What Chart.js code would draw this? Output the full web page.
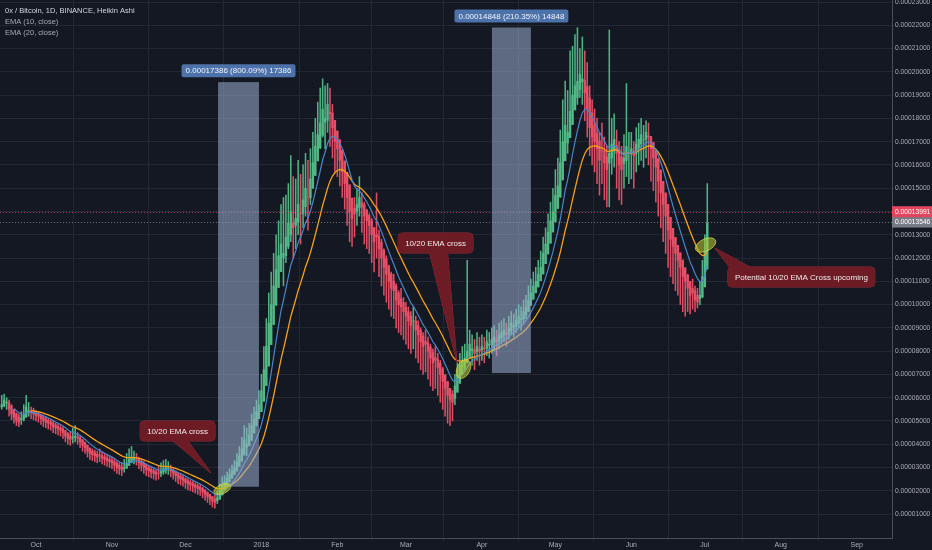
<!DOCTYPE html>
<html>
<head>
<meta charset="utf-8">
<script src="https://cdn.jsdelivr.net/npm/chart.js@4.4.0/dist/chart.umd.min.js"></script>
<style>
html, body { margin: 0; padding: 0; background: #141823; }
#wrap { width: 932px; height: 550px; }
</style>
</head>
<body>
<div id="wrap"><canvas id="chart" width="932" height="550"></canvas></div>
<script>
// daily Heikin Ashi candles, day 0 = 2017-09-17, values in satoshi (1e-8 BTC)
const closes = [
  5700, 5900, 5800, 5500, 5300, 5150, 5000, 4950, 5100, 5250, 5600, 5450, 5350, 5300, 5250,
  5200, 5100, 5000, 4950, 4900, 4850, 4750, 4700, 4650, 4600, 4500, 4350, 4250, 4200, 4300, 4350, 4250,
  4100, 3950, 3850, 3700, 3600, 3550, 3500, 3450, 3500, 3400, 3350, 3300, 3250,
  3200, 3100, 3000, 2950, 2900, 3000, 3200, 3350, 3450, 3400, 3350, 3200,
  3100, 3000, 2900, 2850, 2800, 2750, 2700, 2750, 2850, 2950, 3000, 2950, 2850, 2750,
  2650, 2550, 2500, 2450, 2350, 2300, 2250, 2200, 2150, 2100, 2050, 1950, 1850, 1750, 1650, 1550, 1500, 1700,
  2000, 2250, 2400, 2550, 2700, 2850, 3000, 3250, 3500, 3800, 4200, 4000, 4400, 4800, 5100, 5400, 5700,
  6300, 7200, 8200, 9200, 10000, 10800, 11500, 12100, 12600, 12200, 12900, 13500, 14000, 13300, 13700, 14300, 13900, 14500, 15000, 14600,
  15400, 16100, 16800, 17300, 17800, 18400, 18000, 18600, 18200, 17600, 17000,
  16700, 16200, 15700, 15200, 14600, 14000, 13700, 13900, 14300, 14600, 14200, 13800, 13600, 13400,
  13000, 12700, 12900, 12400, 12000, 11600, 11300, 11000, 10700, 10600, 10200, 10000, 9900, 9700,
  9500, 9300, 9100, 9300, 8900, 8700, 8400, 8200, 8300, 8000, 7700, 7500, 7600, 7300, 7000, 6700, 6400, 6100, 5900, 5800,
  6500, 7000, 7400, 7600, 7700, 8000, 8300, 8100, 7900, 8200, 8000, 8200, 8100, 8400, 8300, 8500,
  8600, 8400, 8700, 8800, 8900, 8700, 9000, 9200, 9100, 9300, 9500, 9400, 9700, 9900, 10200, 10500,
  10800, 11000, 11300, 11600, 12200, 12600, 13100, 13600,
  14000, 14700, 15100, 16100, 17000, 17700, 17400, 18300, 19000, 19400, 19600, 19900, 19700, 19100, 18400, 17600,
  17200, 17000, 16700, 16200, 16600, 16100, 15800, 16500, 16900, 17100, 16500, 16000, 15800, 16300, 16800, 16500,
  16700, 16400, 16900, 17100, 17300, 17100, 17400, 17200, 16700, 16300, 15900, 15300, 14800, 14300, 13800, 13200, 12800, 12500, 12200,
  11900, 11600, 11200, 11000, 10700, 10400, 10500, 10200, 10100, 10400, 11200, 12300, 13500
];
const highs = [
  6100, 6150, 6000, 5900, 5700, 5500, 5350, 5300, 5400, 5700, 6100, 5800, 5600, 5550, 5450,
  5400, 5300, 5250, 5150, 5100, 5050, 5000, 4900, 4850, 4800, 4750, 4600, 4500, 4550, 4700, 4800, 4500,
  4350, 4200, 4100, 3950, 3850, 3800, 3750, 3700, 3800, 3650, 3600, 3550, 3500,
  3450, 3350, 3250, 3200, 3200, 3350, 3600, 3800, 3900, 3700, 3600, 3450,
  3350, 3250, 3150, 3050, 3000, 2950, 2900, 3050, 3200, 3300, 3350, 3250, 3100, 2950,
  2850, 2750, 2700, 2650, 2550, 2500, 2450, 2400, 2350, 2300, 2250, 2150, 2050, 1950, 1850, 1750, 1800, 2000,
  2300, 2600, 2650, 2800, 2950, 3100, 3300, 3600, 3900, 4300, 4800, 4700, 4900, 5300, 5600, 5900, 6300,
  7000, 8200, 9400, 10500, 11400, 12200, 13000, 13600, 14300, 14600, 14700, 15200, 16400, 15500, 15400, 16200, 15600, 16000, 16500, 16200,
  16700, 17400, 18000, 18700, 19300, 19700, 19400, 19500, 19300, 18600, 17900,
  17200, 16800, 16300, 15700, 15200, 14500, 14200, 14600, 15000, 15500, 14800, 14400, 14100, 13900,
  13700, 13300, 14800, 13200, 12800, 12400, 12100, 11700, 11400, 11300, 10900, 10600, 10700, 10300,
  10100, 9900, 9700, 9900, 9500, 9300, 9000, 8800, 8900, 8600, 8300, 8100, 8200, 7900, 7600, 7300, 7000, 6700, 6400, 6300,
  7000, 7500, 7900, 8200, 8300, 11900, 8900, 8700, 8500, 8800, 8600, 8700, 8600, 8900, 8800, 9000,
  9100, 8900, 9200, 9300, 9400, 9200, 9500, 9700, 9600, 9800, 10000, 9900, 10200, 10400, 10800, 11100,
  11400, 11600, 11900, 12300, 12900, 13300, 13900, 14400,
  15000, 15800, 16300, 17500, 18800, 19600, 19200, 20900, 21100, 21600, 21900, 21000, 21500, 20900, 20400, 19400,
  18800, 18400, 18000, 17400, 17800, 17200, 16800, 21800, 18000, 18200, 17500, 17000, 16800, 17300, 19500, 17400,
  17400, 17000, 17600, 17800, 18000, 17700, 17900, 17800, 17200, 16800, 16400, 15900, 15400, 14900, 14400, 13800, 13400, 13100, 12800,
  12500, 12200, 11800, 11600, 11300, 11000, 11100, 10800, 10700, 11000, 11900, 13000, 15200
];
const lows = [
  5500, 5600, 5500, 5200, 5050, 4900, 4800, 4750, 4850, 5000, 5250, 5200, 5100, 5050, 5000,
  4950, 4850, 4750, 4700, 4650, 4600, 4500, 4450, 4400, 4350, 4250, 4100, 4000, 3950, 4050, 4100, 4000,
  3850, 3700, 3600, 3450, 3350, 3300, 3250, 3200, 3250, 3150, 3100, 3050, 3000,
  2950, 2850, 2750, 2700, 2650, 2800, 2950, 3100, 3200, 3150, 3100, 2950,
  2850, 2750, 2650, 2600, 2550, 2500, 2450, 2500, 2600, 2700, 2750, 2700, 2600, 2500,
  2400, 2300, 2250, 2200, 2100, 2050, 2000, 1950, 1900, 1850, 1800, 1700, 1600, 1500, 1400, 1300, 1250, 1450,
  1800, 2050, 2200, 2350, 2500, 2650, 2800, 3000, 3250, 3500, 3900, 3500, 4000, 4400, 4700, 5000, 5300,
  5600, 6400, 7300, 8200, 9000, 9800, 10500, 11000, 11600, 10800, 11800, 12400, 12700, 12000, 12400, 13000, 12600, 13300, 13800, 13200,
  14300, 15000, 15800, 16200, 16700, 17200, 16700, 17400, 16800, 16300, 15700,
  15500, 15100, 14600, 14100, 13400, 12700, 12500, 12900, 13400, 13800, 13100, 12600, 12400, 12200,
  11800, 11400, 12000, 11200, 10800, 10400, 10100, 9800, 9500, 9400, 9000, 8800, 8700, 8500,
  8300, 8100, 7900, 8100, 7700, 7500, 7200, 7000, 7100, 6800, 6500, 6300, 6400, 6100, 5800, 5500, 5200, 4900, 4800, 5000,
  5700, 6400, 6900, 7100, 7200, 7500, 7700, 7400, 7200, 7600, 7400, 7600, 7500, 7800, 7700, 7900,
  8000, 7800, 8100, 8300, 8400, 8200, 8500, 8700, 8600, 8800, 9000, 8900, 9200, 9400, 9700, 10000,
  10300, 10500, 10800, 11100, 11600, 12000, 12500, 13000,
  13300, 14100, 14500, 15500, 16300, 16900, 16500, 17400, 18000, 18400, 18600, 18900, 18600, 17900, 17200, 16400,
  16000, 15700, 15200, 14700, 15200, 14500, 14200, 14200, 15600, 15900, 15000, 14500, 14300, 15000, 15500, 15200,
  15400, 15000, 15700, 16000, 16200, 15900, 16300, 16000, 15300, 14900, 14400, 13800, 13300, 12700, 12200, 11600, 11200, 10900, 10600,
  10400, 10000, 9700, 9500, 9700, 9600, 9800, 9700, 9850, 10000, 10300, 11300, 12200
];
const firstOpen = 5600;

// x axis: day numbers of month starts and their labels
const monthDays = [14, 45, 75, 106, 137, 165, 196, 226, 257, 287, 318, 349];
const monthLabels = ['Oct', 'Nov', 'Dec', '2018', 'Feb', 'Mar', 'Apr', 'May', 'Jun', 'Jul', 'Aug', 'Sep'];
// y axis ticks (satoshi)
const priceTicks = [1000, 2000, 3000, 4000, 5000, 6000, 7000, 8000, 9000, 10000, 11000, 12000,
  13000, 14000, 15000, 16000, 17000, 18000, 19000, 20000, 21000, 22000, 23000];

const lastPrice = 13991;
const markPrice = 13546;

// 描画注釈 (データ座標)
const boxes = [
  { d0: 88.3, d1: 105, lo: 2173, hi: 19559, label: '0.00017386 (800.09%) 17386' },
  { d0: 200.1, d1: 216, lo: 7059, hi: 21907, label: '0.00014848 (210.35%) 14848' }
];
const callouts = [
  { d: 71.8, v: 4568, tipD: 85.4, tipV: 2763, side: 'bottom', base: [0.44, 0.64], text: '10/20 EMA cross' },
  { d: 177.1, v: 12646, tipD: 185.8, tipV: 7530, side: 'bottom', base: [0.42, 0.66], text: '10/20 EMA cross' },
  { d: 326.4, v: 11185, tipD: 291.1, tipV: 12431, side: 'top', base: [0.01, 0.15], text: 'Potential 10/20 EMA Cross upcoming' }
];
const marks = [
  { d: 90.1, v: 2075, rx: 9, ry: 4.5, rot: -0.4 },
  { d: 188.5, v: 7232, rx: 6.5, ry: 10, rot: 0.45 },
  { d: 287.3, v: 12560, rx: 11, ry: 6, rot: -0.45 }
];

// Heikin Ashi open
const opens = [];
closes.forEach((c, i) => opens.push(i === 0 ? firstOpen : (opens[i - 1] + closes[i - 1]) / 2));

function ema(src, n) {
  const k = 2 / (n + 1);
  const out = [];
  let prev = src[0];
  src.forEach((v, i) => {
    prev = i === 0 ? v : prev + k * (v - prev);
    out.push(prev);
  });
  return out;
}
const ema10 = ema(closes, 10);
const ema20 = ema(closes, 20);

const UP = 'rgba(83,185,135,0.95)';
const DOWN = 'rgba(232,80,104,0.95)';
const candleColors = closes.map((c, i) => c >= opens[i] ? UP : DOWN);

const FONT = '"Liberation Sans", Arial, sans-serif';

function roundRect(ctx, x, y, w, h, r) {
  ctx.beginPath();
  ctx.moveTo(x + r, y);
  ctx.lineTo(x + w - r, y);
  ctx.quadraticCurveTo(x + w, y, x + w, y + r);
  ctx.lineTo(x + w, y + h - r);
  ctx.quadraticCurveTo(x + w, y + h, x + w - r, y + h);
  ctx.lineTo(x + r, y + h);
  ctx.quadraticCurveTo(x, y + h, x, y + h - r);
  ctx.lineTo(x, y + r);
  ctx.quadraticCurveTo(x, y, x + r, y);
  ctx.closePath();
}

const overlay = {
  id: 'overlay',
  beforeDraw(chart) {
    const ctx = chart.ctx;
    ctx.save();
    ctx.fillStyle = '#141823';
    ctx.fillRect(0, 0, chart.width, chart.height);
    ctx.restore();
  },
  afterDatasetsDraw(chart) {
    const ctx = chart.ctx;
    const sx = v => chart.scales.x.getPixelForValue(v);
    const sy = v => chart.scales.y.getPixelForValue(v);
    const area = chart.chartArea;
    ctx.save();

    // price lines
    ctx.lineWidth = 1;
    ctx.setLineDash([1, 2]);
    ctx.strokeStyle = 'rgba(232,80,104,0.7)';
    ctx.beginPath();
    ctx.moveTo(area.left, Math.round(sy(lastPrice)) + 0.5);
    ctx.lineTo(area.right, Math.round(sy(lastPrice)) + 0.5);
    ctx.stroke();
    ctx.strokeStyle = 'rgba(160,163,172,0.6)';
    ctx.beginPath();
    ctx.moveTo(area.left, Math.round(sy(markPrice)) + 0.5);
    ctx.lineTo(area.right, Math.round(sy(markPrice)) + 0.5);
    ctx.stroke();
    ctx.setLineDash([]);

    // measured ranges
    boxes.forEach(b => {
      const x0 = sx(b.d0), x1 = sx(b.d1), y0 = sy(b.hi), y1 = sy(b.lo);
      ctx.fillStyle = 'rgba(155,175,210,0.55)';
      ctx.fillRect(x0, y0, x1 - x0, y1 - y0);
      ctx.font = '8px ' + FONT;
      const tw = ctx.measureText(b.label).width;
      const bw = tw + 8, bh = 13;
      const cx = (x0 + x1) / 2;
      roundRect(ctx, cx - bw / 2, y0 - 5 - bh, bw, bh, 2);
      ctx.fillStyle = '#4d72aa';
      ctx.fill();
      ctx.fillStyle = '#eef2fa';
      ctx.textAlign = 'center';
      ctx.textBaseline = 'middle';
      ctx.fillText(b.label, cx, y0 - 5 - bh / 2 + 0.5);
    });

    // crossing marks
    marks.forEach(m => {
      ctx.beginPath();
      ctx.ellipse(sx(m.d), sy(m.v), m.rx, m.ry, m.rot, 0, Math.PI * 2);
      ctx.fillStyle = 'rgba(190,205,50,0.55)';
      ctx.fill();
      ctx.strokeStyle = 'rgba(215,225,80,0.7)';
      ctx.lineWidth = 1;
      ctx.stroke();
    });

    // callouts
    callouts.forEach(c => {
      ctx.font = '8px ' + FONT;
      const w = ctx.measureText(c.text).width + 14, h = 20;
      const x = sx(c.d) - w / 2, y = sy(c.v) - h / 2;
      const by = c.side === 'top' ? y : y + h;
      const tx = sx(c.tipD), ty = sy(c.tipV);
      const tail = () => {
        ctx.beginPath();
        ctx.moveTo(x + w * c.base[0], by);
        ctx.lineTo(tx, ty);
        ctx.lineTo(x + w * c.base[1], by);
        ctx.closePath();
      };
      ctx.strokeStyle = '#962b36';
      ctx.lineWidth = 1;
      tail(); ctx.stroke();
      roundRect(ctx, x, y, w, h, 4); ctx.stroke();
      ctx.fillStyle = '#6d1b24';
      tail(); ctx.fill();
      roundRect(ctx, x, y, w, h, 4); ctx.fill();
      ctx.fillStyle = '#f2e8e8';
      ctx.textAlign = 'center';
      ctx.textBaseline = 'middle';
      ctx.fillText(c.text, x + w / 2, y + h / 2 + 0.5);
    });
    ctx.restore();
  },
  afterDraw(chart) {
    const ctx = chart.ctx;
    const sy = v => chart.scales.y.getPixelForValue(v);
    const area = chart.chartArea;
    ctx.save();
    // price tags on the axis
    [[markPrice, '#787b86'], [lastPrice, '#e2465e']].forEach(([v, col]) => {
      const y = sy(v);
      ctx.fillStyle = col;
      ctx.fillRect(area.right, y - 5.5, chart.width - area.right, 11);
      ctx.fillStyle = '#ffffff';
      ctx.font = '6.7px ' + FONT;
      ctx.textAlign = 'left';
      ctx.textBaseline = 'middle';
      ctx.fillText((v / 1e8).toFixed(8), area.right + 3, y + 0.5);
    });
    // legend
    ctx.textAlign = 'left';
    ctx.textBaseline = 'middle';
    ctx.font = '7.5px ' + FONT;
    ctx.fillStyle = '#d1d4dc';
    ctx.fillText('0x / Bitcoin, 1D, BINANCE, Heikin Ashi', 5, 11);
    ctx.fillStyle = '#a8abb4';
    ctx.fillText('EMA (10, close)', 5, 22);
    ctx.fillText('EMA (20, close)', 5, 32.5);
    ctx.restore();
  }
};

new Chart(document.getElementById('chart'), {
  type: 'bar',
  data: {
    datasets: [
      {
        type: 'line', label: 'EMA 10', order: 0,
        data: ema10.map((v, i) => ({ x: i, y: i >= 5 ? v : null })),
        borderColor: '#4a86c8', borderWidth: 1.2, pointRadius: 0, tension: 0
      },
      {
        type: 'line', label: 'EMA 20', order: 0,
        data: ema20.map((v, i) => ({ x: i, y: i >= 12 ? v : null })),
        borderColor: '#f6a01a', borderWidth: 1.3, pointRadius: 0, tension: 0
      },
      {
        label: 'body', order: 1, grouped: false,
        data: closes.map((c, i) => ({ x: i, y: [opens[i], c] })),
        backgroundColor: candleColors, barThickness: 1.8, borderWidth: 0
      },
      {
        label: 'wick', order: 2, grouped: false,
        data: closes.map((c, i) => ({
          x: i,
          y: [Math.min(lows[i], opens[i], c), Math.max(highs[i], opens[i], c)]
        })),
        backgroundColor: candleColors, barThickness: 0.9, borderWidth: 0
      }
    ]
  },
  options: {
    responsive: false,
    animation: false,
    devicePixelRatio: 1,
    layout: { padding: 0 },
    plugins: { legend: { display: false }, tooltip: { enabled: false } },
    scales: {
      x: {
        type: 'linear', min: -0.7, max: 363.4, offset: false,
        grid: { color: '#232734', tickLength: 3 },
        border: { color: '#4a4e5a' },
        ticks: {
          color: '#a9acb5', font: { family: FONT, size: 7 }, padding: 0,
          maxRotation: 0, autoSkip: false,
          callback: v => monthLabels[monthDays.indexOf(v)]
        },
        afterBuildTicks: s => { s.ticks = monthDays.map(v => ({ value: v })); },
        afterFit: s => { s.height = 12; s.paddingLeft = 0; s.paddingRight = 0; }
      },
      y: {
        position: 'right', min: -30, max: 23088,
        grid: { color: '#232734', tickLength: 2 },
        border: { color: '#4a4e5a' },
        ticks: {
          color: '#a9acb5', font: { family: FONT, size: 6.7 }, padding: 1,
          callback: v => (v / 1e8).toFixed(8)
        },
        afterBuildTicks: s => { s.ticks = priceTicks.map(v => ({ value: v })); },
        afterFit: s => { s.width = 40; s.paddingTop = 0; s.paddingBottom = 0; }
      }
    }
  },
  plugins: [overlay]
});
</script>
</body>
</html>
